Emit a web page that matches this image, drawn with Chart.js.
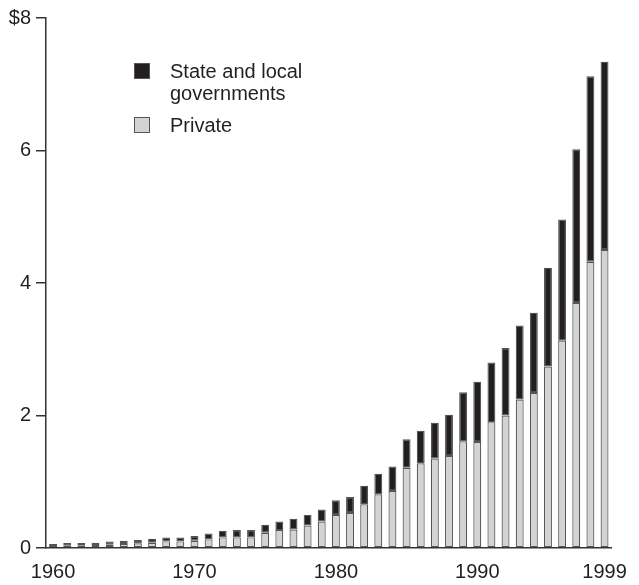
<!DOCTYPE html>
<html>
<head>
<meta charset="utf-8">
<title>Spending, 1960-1999</title>
<script src="https://cdn.jsdelivr.net/npm/chart.js@4.4.1/dist/chart.umd.min.js"></script>
<style>
  html, body { margin: 0; padding: 0; background: #fff; }
  #wrap { width: 639px; height: 585px; }
</style>
</head>
<body>
<div id="wrap"><canvas id="chart" width="639" height="585"></canvas></div>
<script>
// ------------------- Data ($ billions) -------------------
const years = [
    1960, 1961, 1962, 1963, 1964, 1965, 1966, 1967, 1968, 1969,
    1970, 1971, 1972, 1973, 1974, 1975, 1976, 1977, 1978, 1979,
    1980, 1981, 1982, 1983, 1984, 1985, 1986, 1987, 1988, 1989,
    1990, 1991, 1992, 1993, 1994, 1995, 1996, 1997, 1998, 1999
];

const privateValues = [
    0.03, 0.035, 0.04, 0.045, 0.05, 0.06, 0.07, 0.08, 0.10, 0.10,
    0.11, 0.13, 0.16, 0.16, 0.16, 0.23, 0.27, 0.28, 0.34, 0.40,
    0.50, 0.53, 0.66, 0.81, 0.86, 1.21, 1.28, 1.35, 1.39, 1.61,
    1.60, 1.90, 2.00, 2.24, 2.34, 2.74, 3.13, 3.70, 4.32, 4.50
];

const stateLocalValues = [
    0.03, 0.04, 0.035, 0.035, 0.05, 0.05, 0.05, 0.06, 0.06, 0.06,
    0.07, 0.09, 0.10, 0.11, 0.11, 0.12, 0.13, 0.16, 0.16, 0.18,
    0.22, 0.24, 0.28, 0.31, 0.37, 0.43, 0.49, 0.54, 0.62, 0.74,
    0.91, 0.90, 1.02, 1.12, 1.21, 1.49, 1.83, 2.32, 2.80, 2.84
];

const xTickLabels = [1960, 1970, 1980, 1990, 1999];
const yTickLabels = { 0: '0', 2: '2', 4: '4', 6: '6', 8: '$8' };

// ------------------- Styles -------------------
const INK = '#231f20';
const EDGE = '#555557';
const LIGHT = '#d1d3d4';
const FONT = '"Liberation Sans", Arial, Helvetica, sans-serif';

// legend drawn by hand so the first label can wrap onto two lines
const legendPlugin = {
    id: 'boxLegend',
    afterDraw(chart) {
        const ctx = chart.ctx;
        const items = [
            { fill: INK, lines: ['State and local', 'governments'], y: 63 },
            { fill: LIGHT, lines: ['Private'], y: 117 }
        ];
        ctx.save();
        ctx.font = '20px ' + FONT;
        ctx.textBaseline = 'alphabetic';
        items.forEach(item => {
            ctx.fillStyle = item.fill;
            ctx.fillRect(134, item.y, 16, 16);
            ctx.strokeStyle = EDGE;
            ctx.lineWidth = 1;
            ctx.strokeRect(134.5, item.y + 0.5, 15, 15);
            ctx.fillStyle = INK;
            item.lines.forEach((line, i) => {
                ctx.fillText(line, 170, item.y + 15 + i * 22);
            });
        });
        ctx.restore();
    }
};

new Chart(document.getElementById('chart'), {
    type: 'bar',
    data: {
        labels: years,
        datasets: [
            {
                label: 'Private',
                data: privateValues,
                backgroundColor: LIGHT,
                borderColor: EDGE,
                borderWidth: 1.2,
                borderSkipped: false
            },
            {
                label: 'State and local governments',
                data: stateLocalValues,
                backgroundColor: INK,
                borderColor: EDGE,
                borderWidth: 1.2,
                borderSkipped: false
            }
        ]
    },
    options: {
        responsive: false,
        animation: false,
        devicePixelRatio: 1,
        layout: { padding: { top: 18, right: 17, left: 0, bottom: 0 } },
        datasets: { bar: { barPercentage: 0.56, categoryPercentage: 1 } },
        plugins: {
            legend: { display: false },
            tooltip: { enabled: false }
        },
        scales: {
            x: {
                stacked: true,
                offset: true,
                grid: { display: false, drawTicks: false, tickLength: 0 },
                border: { display: true, color: '#333', width: 1.5 },
                ticks: {
                    autoSkip: false,
                    maxRotation: 0,
                    padding: 12,
                    color: INK,
                    font: { family: FONT, size: 20 },
                    callback(value) {
                        const yr = years[value];
                        return xTickLabels.includes(yr) ? String(yr) : '';
                    }
                },
                afterFit(scale) { scale.height = 37; }
            },
            y: {
                stacked: true,
                min: 0,
                max: 8,
                grid: {
                    drawOnChartArea: false,
                    drawTicks: true,
                    tickLength: 10,
                    color: '#333',
                    lineWidth: 1.5
                },
                border: { display: true, color: '#333', width: 1.5 },
                ticks: {
                    stepSize: 2,
                    padding: 5,
                    color: INK,
                    font: { family: FONT, size: 20 },
                    callback(value) { return yTickLabels[value]; }
                },
                afterFit(scale) { scale.width = 46; }
            }
        }
    },
    plugins: [legendPlugin]
});
</script>
</body>
</html>
